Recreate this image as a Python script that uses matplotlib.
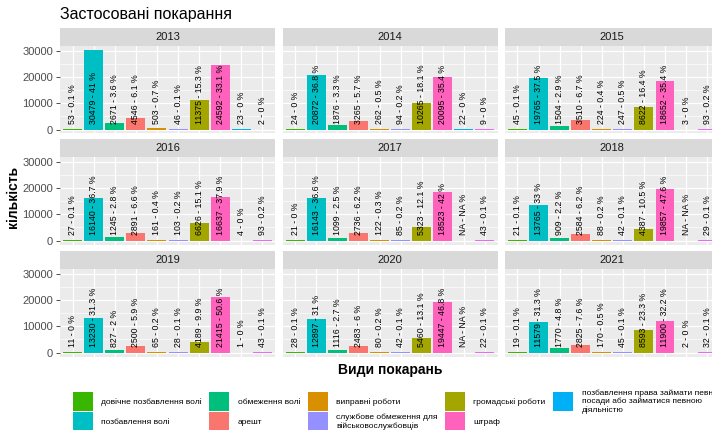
import numpy as np
import matplotlib.pyplot as plt
from matplotlib.patches import Patch

plt.rcParams['font.family'] = ['Liberation Sans', 'DejaVu Sans']

years = [2013, 2014, 2015, 2016, 2017, 2018, 2019, 2020, 2021]

# counts per punishment type (10 positions on the x axis), nan = NA
counts = {
    2013: [53, 30479, 2671, 4546, 503, 46, 11375, 24592, 23, 2],
    2014: [24, 20872, 1876, 3265, 262, 94, 10265, 20095, 22, 9],
    2015: [45, 19765, 1504, 3510, 224, 247, 8622, 18652, 3, 93],
    2016: [27, 16140, 1245, 2891, 161, 103, 6626, 16637, 4, 93],
    2017: [21, 16143, 1099, 2736, 122, 85, 5323, 18523, np.nan, 43],
    2018: [21, 13765, 909, 2584, 88, 42, 4387, 19857, np.nan, 29],
    2019: [11, 13230, 827, 2500, 65, 28, 4189, 21415, 1, 43],
    2020: [28, 12897, 1116, 2483, 80, 42, 5460, 19447, np.nan, 22],
    2021: [19, 11579, 1770, 2825, 170, 45, 8593, 11900, 2, 32],
}
percents = {
    2013: [0.1, 41, 3.6, 6.1, 0.7, 0.1, 15.3, 33.1, 0, 0],
    2014: [0, 36.8, 3.3, 5.7, 0.5, 0.2, 18.1, 35.4, 0, 0],
    2015: [0.1, 37.5, 2.9, 6.7, 0.4, 0.5, 16.4, 35.4, 0, 0.2],
    2016: [0.1, 36.7, 2.8, 6.6, 0.4, 0.2, 15.1, 37.9, 0, 0.2],
    2017: [0, 36.6, 2.5, 6.2, 0.3, 0.2, 12.1, 42, np.nan, 0.1],
    2018: [0.1, 33, 2.2, 6.2, 0.2, 0.1, 10.5, 47.6, np.nan, 0.1],
    2019: [0, 31.3, 2, 5.9, 0.2, 0.1, 9.9, 50.6, 0, 0.1],
    2020: [0.1, 31, 2.7, 6, 0.2, 0.1, 13.1, 46.8, np.nan, 0.1],
    2021: [0.1, 31.3, 4.8, 7.6, 0.5, 0.1, 23.3, 32.2, 0, 0.1],
}

legend_labels = [
    'довічне позбавлення волі',
    'позбавлення волі',
    'обмеження волі',
    'арешт',
    'виправні роботи',
    'службове обмеження для\nвійськовослужбовців',
    'громадські роботи',
    'штраф',
    'позбавлення права займати певні\nпосади або займатися певною\nдіяльністю',
]
colors = ['#39B600', '#00BFC4', '#00BF7D', '#F8766D', '#D89000',
          '#9590FF', '#A3A500', '#FF62BC', '#00B0F6', '#E76BF3']


def fmt(v):
    if np.isnan(v):
        return 'NA'
    return '{:g}'.format(v)


W, H = 712, 430
fig = plt.figure(figsize=(W / 100, H / 100), dpi=100)

col_left = [60, 282.6, 504.8]
row_top = [46, 157, 269]
pw, ph, sh = 215, 87.5, 18
xpos = np.arange(1, 11)

for i, yr in enumerate(years):
    r, c = divmod(i, 3)
    l, t = col_left[c], row_top[r]
    ax = fig.add_axes([l / W, 1 - (t + ph) / H, pw / W, ph / H])
    ax.set_facecolor('#EBEBEB')
    vals = np.array(counts[yr], dtype=float)
    ax.bar(xpos, np.nan_to_num(vals), width=0.9, color=colors, zorder=2)
    for x, v, p in zip(xpos, vals, percents[yr]):
        ax.annotate('{} - {} %'.format(fmt(v), fmt(p)), (x, 0), xytext=(0, 4),
                    textcoords='offset points', rotation=90, ha='center',
                    va='bottom', fontsize=6.3, color='black', zorder=3)
    ax.set_xlim(0.4, 10.6)
    ax.set_ylim(-1524, 32003)
    ax.set_yticks([0, 10000, 20000, 30000])
    ax.set_yticks([5000, 15000, 25000], minor=True)
    ax.set_xticks(xpos)
    ax.grid(which='major', color='white', lw=0.9, zorder=0)
    ax.grid(which='minor', axis='y', color='white', lw=0.45, zorder=0)
    ax.set_axisbelow(True)
    for s in ax.spines.values():
        s.set_visible(False)
    ax.tick_params(axis='x', length=0, labelbottom=False)
    ax.tick_params(axis='y', which='minor', length=0)
    if c == 0:
        ax.tick_params(axis='y', length=3, width=0.6, color='#333333',
                       labelsize=8, labelcolor='#4D4D4D', pad=2)
    else:
        ax.tick_params(axis='y', length=0, labelleft=False)

    st = fig.add_axes([l / W, 1 - t / H, pw / W, sh / H])
    st.set_facecolor('#D9D9D9')
    st.set_xticks([])
    st.set_yticks([])
    for s in st.spines.values():
        s.set_visible(False)
    st.text(0.5, 0.5, str(yr), ha='center', va='center', fontsize=8,
            color='#1A1A1A', transform=st.transAxes)

fig.text(60 / W, 1 - 19 / H, 'Застосовані покарання', fontsize=11.5,
         va='baseline', ha='left')
fig.text(13 / W, 1 - 197 / H, 'кількість', rotation=90, fontsize=10,
         fontweight='bold', ha='center', va='center')
fig.text(390 / W, 1 - 370 / H, 'Види покарань', fontsize=10,
         fontweight='bold', ha='center', va='center')

handles = [Patch(facecolor=col) for col in colors[:9]]
fig.legend(handles, legend_labels, loc='upper left',
           bbox_to_anchor=(73 / W, 1 - 389 / H), ncol=5, fontsize=6,
           frameon=False, handlelength=2.4, handleheight=3.2,
           handletextpad=1.0, columnspacing=0.9, labelspacing=0.05,
           borderpad=0, borderaxespad=0)

fig.savefig('out.png', dpi=100)
